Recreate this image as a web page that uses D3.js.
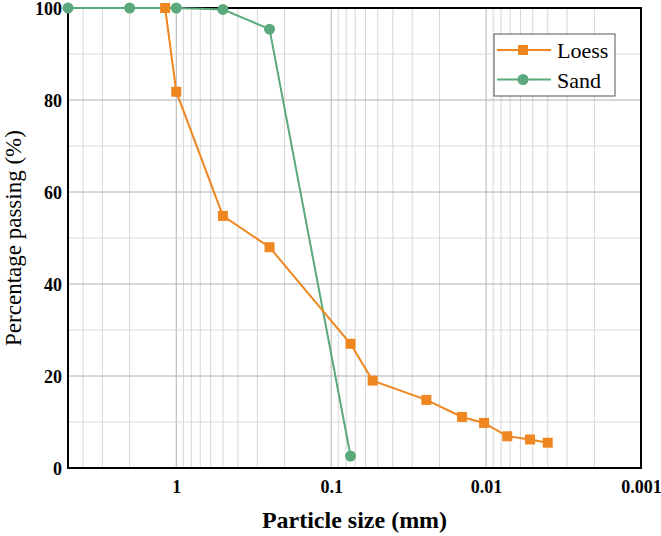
<!DOCTYPE html>
<html>
<head>
<meta charset="utf-8">
<script src="https://cdn.jsdelivr.net/npm/d3@7"></script>
<style>
  html, body { margin: 0; padding: 0; background: #fff; }
  svg { display: block; }
</style>
</head>
<body>
<svg id="chart" width="661" height="536"></svg>
<script>
// ---- data ----
const loessSize = [1.18, 1.0, 0.5, 0.25, 0.075, 0.054, 0.0243, 0.0143, 0.0103, 0.0073, 0.0052, 0.004];
const loessPass = [100, 81.8, 54.8, 48.0, 27.0, 19.0, 14.8, 11.1, 9.8, 6.9, 6.2, 5.5];
const sandSize = [5, 2, 1, 0.5, 0.25, 0.075];
const sandPass = [100, 100, 100, 99.7, 95.4, 2.6];
const xTickValues = [1, 0.1, 0.01, 0.001];
const xTickLabels = ["1", "0.1", "0.01", "0.001"];
const yTickValues = [0, 20, 40, 60, 80, 100];
const seriesNames = ["Loess", "Sand"];
const seriesColors = ["#f0861f", "#5aa87b"];

const FONT = "'Liberation Serif', 'Times New Roman', Tinos, serif";
const svg = d3.select("#chart");
const pL = 68, pR = 641, pT = 8, pB = 468;

const x = d3.scaleLog().domain([5, 0.001]).range([pL, pR]);
const y = d3.scaleLinear().domain([0, 100]).range([pB, pT]);

// ---- grid ----
const grid = svg.append("g");
const allX = x.ticks();
const isMajor = v => Math.abs(Math.log10(v) - Math.round(Math.log10(v))) < 1e-9;
grid.selectAll("line.vx").data(allX.filter(v => !isMajor(v))).join("line")
  .attr("x1", d => x(d)).attr("x2", d => x(d)).attr("y1", pT).attr("y2", pB)
  .attr("stroke", "#d6d6d6").attr("stroke-width", 1);
grid.selectAll("line.vM").data(xTickValues).join("line")
  .attr("x1", d => x(d)).attr("x2", d => x(d)).attr("y1", pT).attr("y2", pB)
  .attr("stroke", "#b2b2b2").attr("stroke-width", 1);
const yMinor = d3.range(10, 100, 20);
grid.selectAll("line.hm").data(yMinor).join("line")
  .attr("x1", pL).attr("x2", pR).attr("y1", d => y(d)).attr("y2", d => y(d))
  .attr("stroke", "#d9d9d9").attr("stroke-width", 1);
grid.selectAll("line.hM").data(yTickValues).join("line")
  .attr("x1", pL).attr("x2", pR).attr("y1", d => y(d)).attr("y2", d => y(d))
  .attr("stroke", "#b2b2b2").attr("stroke-width", 1);

// ---- frame ----
svg.append("rect").attr("x", pL).attr("y", pT).attr("width", pR - pL).attr("height", pB - pT)
  .attr("fill", "none").attr("stroke", "#000").attr("stroke-width", 2);

// ---- axes ----
const xAxis = d3.axisBottom(x).tickValues(xTickValues)
  .tickFormat((d, i) => xTickLabels[i]).tickSize(0).tickPadding(12);
const gx = svg.append("g").attr("transform", `translate(0,${pB})`).call(xAxis);
gx.select(".domain").remove();
gx.selectAll("text").style("font-family", FONT).style("font-size", "18px")
  .style("font-weight", "bold").attr("fill", "#000");

const yAxis = d3.axisLeft(y).tickValues(yTickValues).tickSize(0).tickPadding(6);
const gy = svg.append("g").attr("transform", `translate(${pL},0)`).call(yAxis);
gy.select(".domain").remove();
gy.selectAll("text").style("font-family", FONT).style("font-size", "18px")
  .style("font-weight", "bold").attr("fill", "#000").attr("dy", "0.36em");

// ---- titles ----
svg.append("text").attr("x", (pL + pR) / 2).attr("y", 528)
  .attr("text-anchor", "middle").style("font-family", FONT).style("font-size", "24px")
  .style("font-weight", "bold").text("Particle size (mm)");
svg.append("text").attr("transform", `translate(21,${(pT + pB) / 2}) rotate(-90)`)
  .attr("text-anchor", "middle").style("font-family", FONT).style("font-size", "23px")
  .text("Percentage passing (%)");

// ---- series ----
const line = d3.line().x(d => x(d[0])).y(d => y(d[1]));
const loess = loessSize.map((s, i) => [s, loessPass[i]]);
const sand = sandSize.map((s, i) => [s, sandPass[i]]);

svg.append("path").datum(sand).attr("d", line).attr("fill", "none")
  .attr("stroke", seriesColors[1]).attr("stroke-width", 2);
svg.selectAll("circle.sand").data(sand).join("circle")
  .attr("cx", d => x(d[0])).attr("cy", d => y(d[1])).attr("r", 5.5)
  .attr("fill", seriesColors[1]);

svg.append("path").datum(loess).attr("d", line).attr("fill", "none")
  .attr("stroke", seriesColors[0]).attr("stroke-width", 2);
svg.selectAll("rect.loess").data(loess).join("rect")
  .attr("x", d => x(d[0]) - 5).attr("y", d => y(d[1]) - 5).attr("width", 10).attr("height", 10)
  .attr("fill", seriesColors[0]);

// ---- legend ----
const lg = svg.append("g");
lg.append("rect").attr("x", 494).attr("y", 34).attr("width", 121).attr("height", 62)
  .attr("fill", "#fff").attr("stroke", "#555").attr("stroke-width", 1);
seriesNames.forEach((name, i) => {
  const cy = 50 + i * 29.5;
  lg.append("line").attr("x1", 497).attr("x2", 551).attr("y1", cy).attr("y2", cy)
    .attr("stroke", seriesColors[i]).attr("stroke-width", 2);
  if (i === 0) {
    lg.append("rect").attr("x", 518).attr("y", cy - 5).attr("width", 10).attr("height", 10)
      .attr("fill", seriesColors[i]);
  } else {
    lg.append("circle").attr("cx", 523).attr("cy", cy).attr("r", 5.5).attr("fill", seriesColors[i]);
  }
  lg.append("text").attr("x", 557).attr("y", cy + 8).style("font-family", FONT)
    .style("font-size", "22px").attr("fill", "#000").text(name);
});
</script>
</body>
</html>
